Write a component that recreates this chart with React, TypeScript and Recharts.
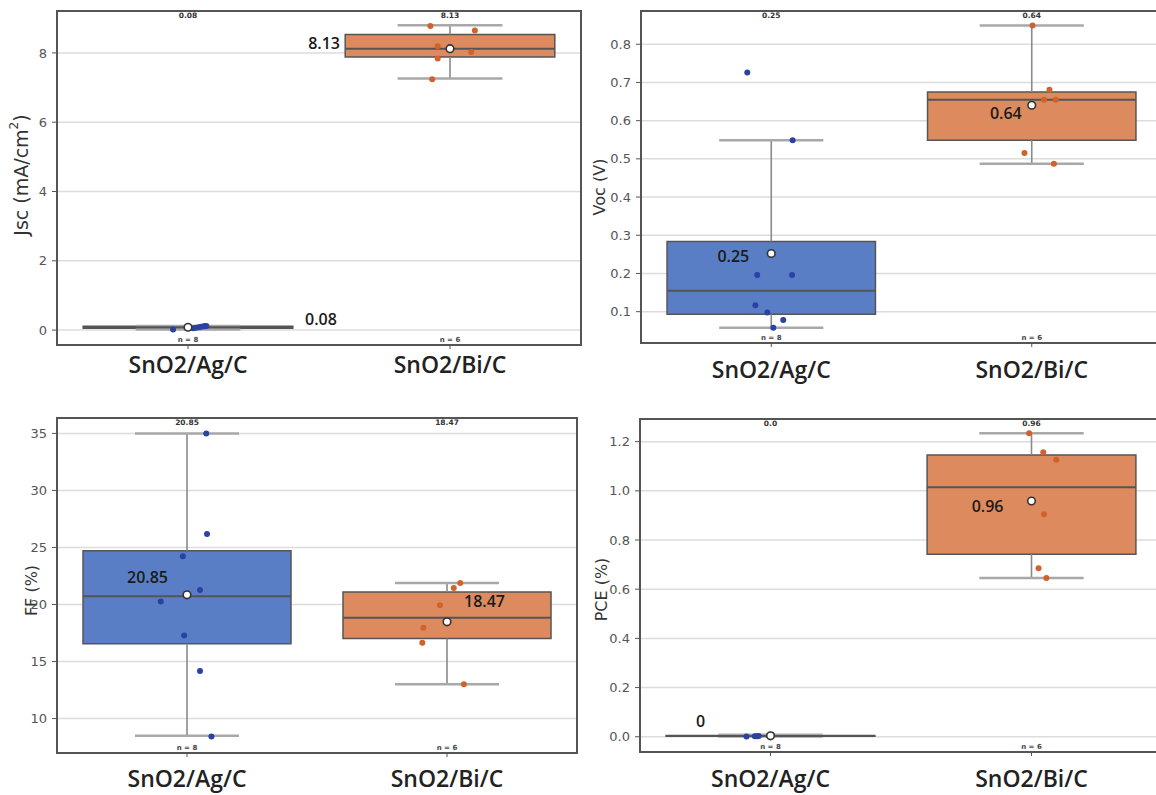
import React from "react";
import {
  ComposedChart,
  XAxis,
  YAxis,
  CartesianGrid,
  Scatter,
  ReferenceArea,
  ReferenceLine,
} from "recharts";

// ---------- shared ----------
const groups = ["SnO2/Ag/C", "SnO2/Bi/C"];
const groupN = ["n = 8", "n = 6"];

// ---------- Jsc ----------
const jscAg = [0.02, 0.05, 0.07, 0.08, 0.1, 0.11, 0.11, 0.12];
const jscAgX = [-0.057, 0.02, 0.03, 0.04, 0.05, 0.06, 0.065, 0.07];
const jscBi = [8.78, 8.65, 8.19, 8.03, 7.84, 7.24];
const jscBiX = [-0.075, 0.095, -0.047, 0.081, -0.047, -0.068];
const jscQ1 = [0.05, 7.88];
const jscMed = [0.08, 8.12];
const jscQ3 = [0.11, 8.53];
const jscLo = [0.02, 7.26];
const jscHi = [0.12, 8.8];
const jscMeanText = ["0.08", "8.13"];
const jscTopText = ["0.08", "8.13"];
const jscTicks = [0, 2, 4, 6, 8];

// ---------- Voc ----------
const vocAg = [0.726, 0.549, 0.196, 0.196, 0.117, 0.098, 0.078, 0.058];
const vocAgX = [-0.092, 0.082, -0.054, 0.08, -0.061, -0.015, 0.046, 0.008];
const vocBi = [0.849, 0.681, 0.655, 0.655, 0.515, 0.487];
const vocBiX = [0.003, 0.068, 0.047, 0.092, -0.028, 0.085];
const vocQ1 = [0.093, 0.549];
const vocMed = [0.155, 0.655];
const vocQ3 = [0.284, 0.675];
const vocLo = [0.058, 0.487];
const vocHi = [0.549, 0.849];
const vocMeanText = ["0.25", "0.64"];
const vocTopText = ["0.25", "0.64"];
const vocTicks = [0.1, 0.2, 0.3, 0.4, 0.5, 0.6, 0.7, 0.8];

// ---------- FF ----------
const ffAg = [35.0, 26.17, 24.22, 21.28, 20.26, 17.28, 14.17, 8.43];
const ffAgX = [0.074, 0.077, -0.016, 0.05, -0.101, -0.011, 0.05, 0.094];
const ffBi = [21.89, 21.45, 19.94, 17.95, 16.64, 13.0];
const ffBiX = [0.051, 0.026, -0.027, -0.091, -0.095, 0.065];
const ffQ1 = [16.56, 17.02];
const ffMed = [20.72, 18.83];
const ffQ3 = [24.71, 21.1];
const ffLo = [8.49, 13.0];
const ffHi = [35.0, 21.89];
const ffMeanText = ["20.85", "18.47"];
const ffTopText = ["20.85", "18.47"];
const ffTicks = [10, 15, 20, 25, 30, 35];

// ---------- PCE ----------
const pceAg = [0.001, 0.002, 0.002, 0.003, 0.004, 0.005, 0.006, 0.008];
const pceAgX = [-0.092, -0.06, -0.052, -0.045, -0.005, 0.0, 0.005, 0.003];
const pceBi = [1.234, 1.157, 1.126, 0.905, 0.685, 0.645];
const pceBiX = [-0.009, 0.045, 0.095, 0.048, 0.027, 0.057];
const pceQ1 = [0.002, 0.742];
const pceMed = [0.0035, 1.014];
const pceQ3 = [0.0055, 1.146];
const pceLo = [0.001, 0.645];
const pceHi = [0.008, 1.234];
const pceMeanText = ["0", "0.96"];
const pceTopText = ["0.0", "0.96"];
const pceTicks = [0, 0.2, 0.4, 0.6, 0.8, 1.0, 1.2];

// ---------- styles ----------
const BOX_FILL = ["#5a7ec5", "#dc8a5e"];
const DOT_FILL = ["#2b42a3", "#d2622b"];
const EDGE = "#555555";
const TICK_FONT = "DejaVu Sans";
const LABEL_FONT = "Open Sans";

const mean = (a: number[]) => a.reduce((s, v) => s + v, 0) / a.length;

type Off = { dx: number; dy: number; anchor: "start" | "end" | "middle" };

type PanelProps = {
  left: number;
  top: number;
  width: number;
  height: number;
  margin: { top: number; right: number; bottom: number; left: number };
  yAxisWidth: number;
  xAxisHeight: number;
  domain: [number, number];
  ticks: number[];
  tickFmt: (v: number) => string;
  values: number[][];
  jitter: number[][];
  q1: number[];
  med: number[];
  q3: number[];
  lo: number[];
  hi: number[];
  meanText: string[];
  topText: string[];
  title: React.ReactNode;
  titleX: number;
  titleDy: number;
  titleSize: number;
  offsets: Off[];
  catGap: number;
};

function Panel(p: PanelProps) {
  const dotData = p.values.map((vals, g) =>
    vals.map((v, k) => ({ x: g + p.jitter[g][k], y: v }))
  );
  const meanData = p.values.map((vals, g) => ({
    x: g,
    y: mean(vals),
    text: p.meanText[g],
    off: p.offsets[g],
  }));
  const topData = groups.map((_, g) => ({ x: g, y: p.domain[1], text: p.topText[g] }));
  const nData = groups.map((_, g) => ({ x: g, y: p.domain[0], text: groupN[g] }));

  const MeanShape = (s: any) => {
    const { cx, cy, payload } = s;
    const o: Off = payload.off;
    return (
      <g>
        <circle cx={cx} cy={cy} r={3.8} fill="#ffffff" stroke="#333" strokeWidth={1.6} />
        <text
          x={cx + o.dx}
          y={cy + o.dy}
          textAnchor={o.anchor}
          dominantBaseline="central"
          fontFamily={LABEL_FONT}
          fontWeight={600}
          fontSize={16}
          fill="#1a1a1a"
        >
          {payload.text}
        </text>
      </g>
    );
  };
  const TopShape = (s: any) => (
    <text
      x={s.cx}
      y={s.cy + 4}
      textAnchor="middle"
      dominantBaseline="central"
      fontFamily={TICK_FONT}
      fontWeight={700}
      fontSize={7.5}
      fill="#333"
    >
      {s.payload.text}
    </text>
  );
  const NShape = (s: any) => (
    <text
      x={s.cx}
      y={s.cy - 5}
      textAnchor="middle"
      dominantBaseline="central"
      fontFamily={TICK_FONT}
      fontWeight={700}
      fontSize={7}
      fill="#444"
    >
      {s.payload.text}
    </text>
  );
  const DotShape = (color: string) => (s: any) =>
    <circle cx={s.cx} cy={s.cy} r={3} fill={color} />;

  const CatTick = (t: any) => (
    <text
      x={t.x}
      y={t.y + p.catGap}
      textAnchor="middle"
      dominantBaseline="central"
      fontFamily={LABEL_FONT}
      fontWeight={600}
      fontSize={23}
      fill="#222"
    >
      {groups[Math.round(t.payload.value)]}
    </text>
  );

  const titleLabel = (lp: any) => {
    const vb = lp.viewBox || {};
    const cy = (vb.y || 0) + (vb.height || 0) / 2 + p.titleDy;
    return (
      <text
        transform={`translate(${p.titleX},${cy}) rotate(-90)`}
        textAnchor="middle"
        dominantBaseline="central"
        fontFamily={TICK_FONT}
        fontSize={p.titleSize}
        fill="#333"
      >
        {p.title}
      </text>
    );
  };

  return (
    <div style={{ position: "absolute", left: p.left, top: p.top }}>
      <ComposedChart width={p.width} height={p.height} margin={p.margin}>
        <CartesianGrid vertical={false} stroke="#dcdcdc" strokeWidth={1.5} />
        <XAxis
          type="number"
          dataKey="x"
          domain={[-0.5, 1.5]}
          ticks={[0, 1]}
          allowDataOverflow
          height={p.xAxisHeight}
          axisLine={false}
          tickLine={{ stroke: EDGE }}
          tickSize={4}
          tickMargin={0}
          tick={CatTick}
          interval={0}
        />
        <YAxis
          type="number"
          dataKey="y"
          domain={p.domain}
          ticks={p.ticks}
          allowDataOverflow
          width={p.yAxisWidth}
          axisLine={false}
          tickLine={{ stroke: EDGE }}
          tickSize={5}
          tickMargin={5}
          tickFormatter={p.tickFmt}
          tick={{ fontFamily: TICK_FONT, fontSize: 13, fill: "#555" }}
          interval={0}
          label={titleLabel}
        />
        {groups.map((_, g) => (
          <ReferenceLine
            key={`wl${g}`}
            segment={[
              { x: g, y: p.lo[g] },
              { x: g, y: p.q1[g] },
            ]}
            stroke="#8a8a8a"
            strokeWidth={1.6}
          />
        ))}
        {groups.map((_, g) => (
          <ReferenceLine
            key={`wh${g}`}
            segment={[
              { x: g, y: p.q3[g] },
              { x: g, y: p.hi[g] },
            ]}
            stroke="#8a8a8a"
            strokeWidth={1.6}
          />
        ))}
        {groups.map((_, g) => (
          <ReferenceLine
            key={`cl${g}`}
            segment={[
              { x: g - 0.2, y: p.lo[g] },
              { x: g + 0.2, y: p.lo[g] },
            ]}
            stroke="#a8a8a8"
            strokeWidth={2.5}
          />
        ))}
        {groups.map((_, g) => (
          <ReferenceLine
            key={`ch${g}`}
            segment={[
              { x: g - 0.2, y: p.hi[g] },
              { x: g + 0.2, y: p.hi[g] },
            ]}
            stroke="#a8a8a8"
            strokeWidth={2.5}
          />
        ))}
        {groups.map((_, g) => (
          <ReferenceArea
            key={`bx${g}`}
            x1={g - 0.4}
            x2={g + 0.4}
            y1={p.q1[g]}
            y2={p.q3[g]}
            fill={BOX_FILL[g]}
            fillOpacity={1}
            stroke={EDGE}
            strokeWidth={1.5}
          />
        ))}
        {groups.map((_, g) => (
          <ReferenceLine
            key={`md${g}`}
            segment={[
              { x: g - 0.4, y: p.med[g] },
              { x: g + 0.4, y: p.med[g] },
            ]}
            stroke={EDGE}
            strokeWidth={2}
          />
        ))}
        <ReferenceArea
          x1={-0.5}
          x2={1.5}
          y1={p.domain[0]}
          y2={p.domain[1]}
          fill="none"
          stroke={EDGE}
          strokeWidth={2}
        />
        {groups.map((_, g) => (
          <Scatter
            key={`dots${g}`}
            data={dotData[g]}
            shape={DotShape(DOT_FILL[g])}
            isAnimationActive={false}
          />
        ))}
        <Scatter data={meanData} shape={MeanShape} isAnimationActive={false} />
        <Scatter data={topData} shape={TopShape} isAnimationActive={false} />
        <Scatter data={nData} shape={NShape} isAnimationActive={false} />
      </ComposedChart>
    </div>
  );
}

const fmtInt = (v: number) => String(v);
const fmt1 = (v: number) => v.toFixed(1);

export default function App() {
  return (
    <div
      style={{
        position: "absolute",
        left: 0,
        top: 0,
        width: 1156,
        height: 795,
        overflow: "hidden",
        background: "#ffffff",
      }}
    >
      <Panel
        left={0}
        top={0}
        width={590}
        height={400}
        margin={{ top: 11, right: 9, bottom: 0, left: 0 }}
        yAxisWidth={57}
        xAxisHeight={55}
        domain={[-0.43, 9.21]}
        ticks={jscTicks}
        tickFmt={fmtInt}
        values={[jscAg, jscBi]}
        jitter={[jscAgX, jscBiX]}
        q1={jscQ1}
        med={jscMed}
        q3={jscQ3}
        lo={jscLo}
        hi={jscHi}
        meanText={jscMeanText}
        topText={jscTopText}
        title={
          <>
            Jsc (mA/cm
            <tspan fontSize={12} dy={-7}>
              2
            </tspan>
            <tspan dy={7}>)</tspan>
          </>
        }
        titleX={21}
        titleDy={-3}
        titleSize={19}
        offsets={[
          { dx: 117, dy: -8, anchor: "start" },
          { dx: -110, dy: -6, anchor: "end" },
        ]}
        catGap={15}
      />
      <Panel
        left={578}
        top={0}
        width={590}
        height={400}
        margin={{ top: 11, right: 6, bottom: 0, left: 0 }}
        yAxisWidth={63}
        xAxisHeight={57}
        domain={[0.018, 0.887]}
        ticks={vocTicks}
        tickFmt={fmt1}
        values={[vocAg, vocBi]}
        jitter={[vocAgX, vocBiX]}
        q1={vocQ1}
        med={vocMed}
        q3={vocQ3}
        lo={vocLo}
        hi={vocHi}
        meanText={vocMeanText}
        topText={vocTopText}
        title="Voc (V)"
        titleX={21}
        titleDy={10}
        titleSize={16}
        offsets={[
          { dx: -22, dy: 2, anchor: "end" },
          { dx: -10, dy: 8, anchor: "end" },
        ]}
        catGap={22}
      />
      <Panel
        left={0}
        top={400}
        width={590}
        height={395}
        margin={{ top: 18, right: 13, bottom: 0, left: 0 }}
        yAxisWidth={57}
        xAxisHeight={42}
        domain={[6.98, 36.35]}
        ticks={ffTicks}
        tickFmt={fmtInt}
        values={[ffAg, ffBi]}
        jitter={[ffAgX, ffBiX]}
        q1={ffQ1}
        med={ffMed}
        q3={ffQ3}
        lo={ffLo}
        hi={ffHi}
        meanText={ffMeanText}
        topText={ffTopText}
        title="FF (%)"
        titleX={31}
        titleDy={5}
        titleSize={16}
        offsets={[
          { dx: -19, dy: -18, anchor: "end" },
          { dx: 17, dy: -21, anchor: "start" },
        ]}
        catGap={21}
      />
      <Panel
        left={578}
        top={400}
        width={590}
        height={395}
        margin={{ top: 19, right: 6, bottom: 0, left: 0 }}
        yAxisWidth={62}
        xAxisHeight={43}
        domain={[-0.062, 1.292]}
        ticks={pceTicks}
        tickFmt={fmt1}
        values={[pceAg, pceBi]}
        jitter={[pceAgX, pceBiX]}
        q1={pceQ1}
        med={pceMed}
        q3={pceQ3}
        lo={pceLo}
        hi={pceHi}
        meanText={pceMeanText}
        topText={pceTopText}
        title="PCE (%)"
        titleX={23}
        titleDy={4}
        titleSize={16}
        offsets={[
          { dx: -70, dy: -15, anchor: "middle" },
          { dx: -28, dy: 5, anchor: "end" },
        ]}
        catGap={22}
      />
    </div>
  );
}
